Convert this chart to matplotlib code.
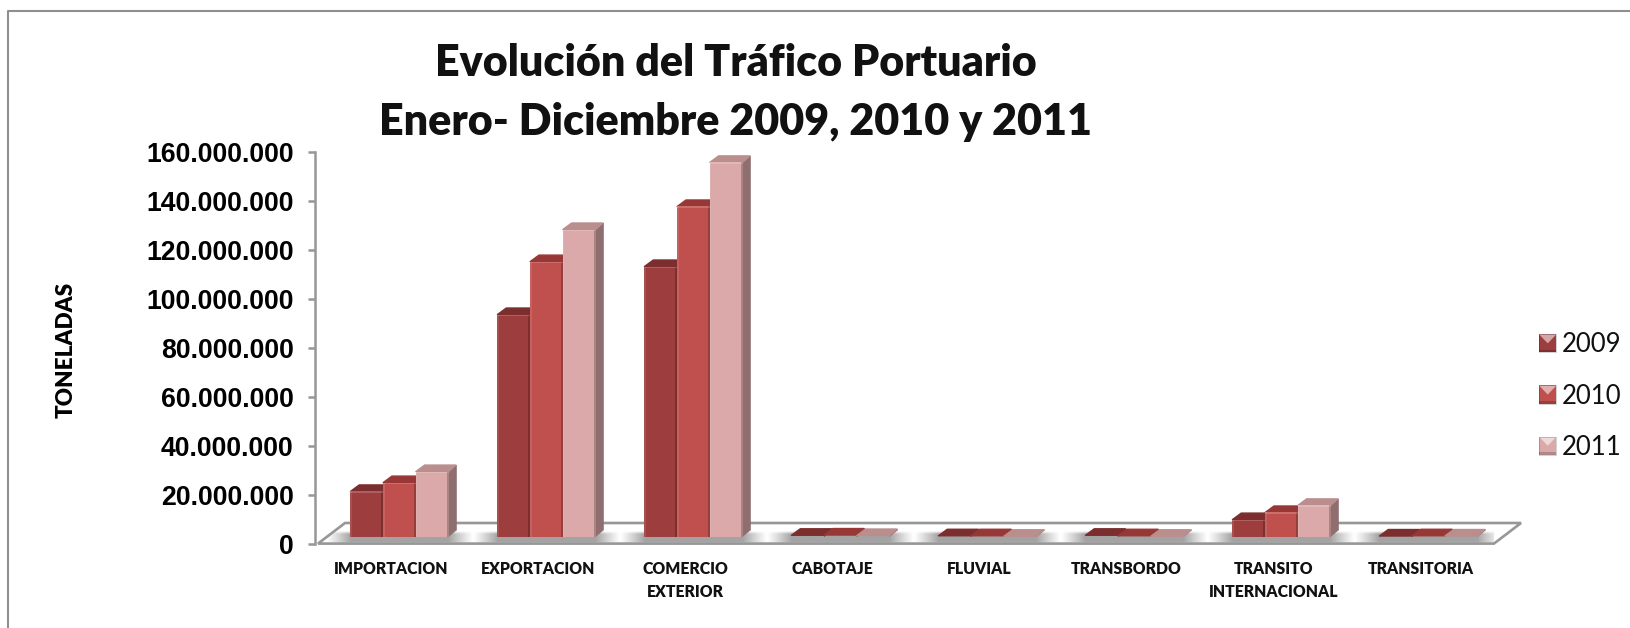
import numpy as np
import matplotlib
matplotlib.use("Agg")
import matplotlib.pyplot as plt
from matplotlib.patches import Polygon, Rectangle
from matplotlib.legend_handler import HandlerBase
from matplotlib.ticker import FuncFormatter

categories = ["IMPORTACION", "EXPORTACION", "COMERCIO\nEXTERIOR", "CABOTAJE", "FLUVIAL",
              "TRANSBORDO", "TRANSITO\nINTERNACIONAL", "TRANSITORIA"]
years = ["2009", "2010", "2011"]
v2009 = [18.4e6, 90.6e6, 110.2e6, 0.5e6, 0.3e6, 0.5e6, 6.9e6, 0.2e6]
v2010 = [22.0e6, 112.2e6, 134.7e6, 0.6e6, 0.3e6, 0.3e6, 9.8e6, 0.3e6]
v2011 = [26.5e6, 125.3e6, 152.7e6, 0.4e6, 0.1e6, 0.1e6, 12.7e6, 0.2e6]
series = [v2009, v2010, v2011]
face = ["#9E3D3D", "#C0504D", "#DBA9A9"]
top = ["#7C2E2E", "#973836", "#BB8E8E"]
side = ["#6F2B2B", "#8A3A38", "#8E6E6E"]
title = "Evolución del Tráfico Portuario\nEnero- Diciembre 2009, 2010 y 2011"

W, H = 1631, 628
fig = plt.figure(figsize=(W / 100, H / 100), dpi=100, facecolor="white")
L, R, T, B = 318, 1494, 152, 544
ax = fig.add_axes([L / W, 1 - B / H, (R - L) / W, (B - T) / H])
ax.set_xlim(0, 8)
ax.set_ylim(0, 160e6)
px_x = 8 / (R - L)
px_y = 160e6 / (B - T)

GREY = "#979797"
for s in ["top", "right", "bottom"]:
    ax.spines[s].set_visible(False)
ax.spines["left"].set_color(GREY)
ax.spines["left"].set_linewidth(1.8)
ax.spines["left"].set_position(("outward", 2))
ax.set_yticks(np.arange(0, 160e6 + 1, 20e6))
ax.yaxis.set_major_formatter(FuncFormatter(lambda v, _: f"{int(v):,}".replace(",", ".")))
ax.tick_params(axis="y", length=5, width=1.8, color=GREY, pad=10.5)
for t in ax.get_yticklabels():
    t.set_fontfamily("Liberation Sans")
    t.set_fontweight("bold")
    t.set_fontsize(19.2)
ax.set_xticks(np.arange(8) + 0.5)
ax.set_xticklabels(categories, fontfamily="Lato", fontweight=800, fontsize=11.3, linespacing=1.55, color="#111111")
ax.tick_params(axis="x", length=0, pad=12)
ax.set_ylabel("TONELADAS", fontfamily="Lato", fontweight=800, fontsize=16.2)
ax.yaxis.set_label_coords((77 - L) / (R - L), (B - 350) / (B - T))

# floor
fdx, fdy = 27 * px_x, 21 * px_y
floor_xy = [(0, 0.4 * px_y), (8, 0.4 * px_y), (8 + fdx, fdy), (fdx, fdy)]
floor = Polygon(floor_xy, closed=True, fc="white", ec=GREY, lw=1.9, clip_on=False, zorder=1, joinstyle="miter")
ax.add_patch(floor)

# shadow on the floor
shift_x, shift_y = 8 * px_x, 7.5 * px_y
gw = 3 * 32.7 * px_x
xs = np.linspace(0, 8 + fdx, 1400)
rel = np.abs(((xs - shift_x) % 1) - 0.5)
ax_profile = np.clip((0.5 - rel) / (0.5 - gw / 2), 0, 1) ** 1.1
ys = np.linspace(0, fdy, 60)
y_profile = np.clip(ys / (2 * px_y), 0, 1) * np.clip((13 * px_y - ys) / (3 * px_y), 0, 1)
rgba = np.zeros((60, 1400, 4))
rgba[..., :3] = 0.6
rgba[..., 3] = np.outer(y_profile, ax_profile) * 0.9
im = ax.imshow(rgba, extent=(0, 8 + fdx, 0, fdy), origin="lower", aspect="auto", zorder=1.2,
               interpolation="bilinear", clip_on=True)
im.set_clip_path(Polygon(floor_xy, transform=ax.transData))
ax.set_xlim(0, 8)
ax.set_ylim(0, 160e6)

# bars
bw = 32.7 * px_x
ddx, ddy = 8 * px_x, 6.5 * px_y
z = 2.0
for i in range(len(categories)):
    x0 = i + 0.5 - gw / 2 + shift_x
    for j, vals in enumerate(series):
        v = vals[i]
        xl = x0 + j * bw
        xr = xl + bw
        b = shift_y
        tp = b + v
        z += 0.01
        ax.add_patch(Polygon([(xr, b), (xr + ddx, b + ddy), (xr + ddx, tp + ddy), (xr, tp)], closed=True,
                             fc=side[j], ec=side[j], lw=0.4, zorder=z, clip_on=False))
        ax.add_patch(Polygon([(xl, tp), (xr, tp), (xr + ddx * 0.9, tp + ddy), (xl + ddx * 1.1, tp + ddy)],
                             closed=True, fc=top[j], ec=top[j], lw=1.0, joinstyle="round", zorder=z, clip_on=False))
        if v > 1e6:
            ax.bar(xl + bw / 2, v, bw, bottom=b, color=face[j], lw=0, zorder=z + 0.001)
            # soft bevel along the edges of the face
            ax.bar(xr - 1.0 * px_x, v, 2.0 * px_x, bottom=b, color="black", alpha=0.22, lw=0, zorder=z + 0.002)
            ax.bar(xl + 0.8 * px_x, v, 1.6 * px_x, bottom=b, color="white", alpha=0.10, lw=0, zorder=z + 0.002)
            ax.bar(xl + bw / 2, 1.2 * px_y, bw, bottom=tp - 1.2 * px_y, color="white", alpha=0.18, lw=0, zorder=z + 0.002)


class Swatch(HandlerBase):
    def create_artists(self, legend, orig, xd, yd, width, height, fontsize, trans):
        c = orig.get_facecolor()
        w = 12.6
        h = 13.0
        y0 = (height - h) / 2 - yd
        x0 = -xd
        return [Rectangle((x0, y0), w, h, fc=c, ec="none", transform=trans),
                Polygon([(x0, y0 + h), (x0 + w, y0 + h), (x0 + w / 2, y0 + h * 0.5)], fc="white", alpha=0.55,
                        ec="none", transform=trans),
                Rectangle((x0, y0), w, h * 0.14, fc="black", alpha=0.2, ec="none", transform=trans),
                Rectangle((x0, y0), w, h, fc="none", ec="black", alpha=0.25, lw=0.5, transform=trans)]


handles = [Rectangle((0, 0), 1, 1, fc=c) for c in face]
leg = ax.legend(handles, years, handler_map={Rectangle: Swatch()}, frameon=False,
                loc="center left", bbox_to_anchor=((1539 - L) / (R - L), (B - 396) / (B - T)),
                borderpad=0, borderaxespad=0, handlelength=0.7, handletextpad=0.2, labelspacing=1.02,
                prop={"family": "Lato", "size": 18.5})
for t in leg.get_texts():
    t.set_color("#111111")

fig.text(736 / W, 1 - 92.5 / H, title, ha="center", va="center", fontfamily="Lato", fontweight=800,
         fontsize=31, linespacing=1.6, color="#111111")

# chart frame, open at the right and the bottom as in the cropped source
fig.add_artist(plt.Line2D([8.5 / W, 8.5 / W, 1], [0, 1 - 11 / H, 1 - 11 / H], transform=fig.transFigure,
                          color="#8f8f8f", lw=1.5))

fig.savefig("out.png", dpi=100)
